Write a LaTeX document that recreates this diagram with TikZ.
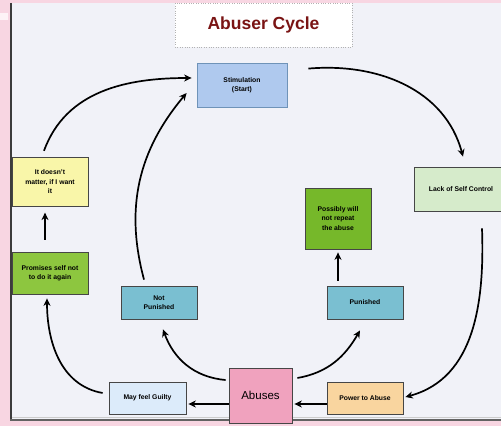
\documentclass[tikz,border=0pt]{standalone}
\usepackage{fontspec}
\setmainfont{Liberation Sans}
\usetikzlibrary{positioning,arrows.meta}
\definecolor{cPink}{RGB}{248,214,226}
\definecolor{cPanel}{RGB}{241,242,248}
\definecolor{cFrame}{RGB}{60,60,60}
\definecolor{cTitle}{RGB}{122,20,20}
\definecolor{cEdge}{RGB}{70,70,70}
\definecolor{cStim}{RGB}{175,201,238}
\definecolor{cStimE}{RGB}{111,147,184}
\definecolor{cLack}{RGB}{214,235,203}
\definecolor{cMaybe}{RGB}{118,184,42}
\definecolor{cPun}{RGB}{122,191,209}
\definecolor{cMatter}{RGB}{249,246,169}
\definecolor{cPromise}{RGB}{141,198,63}
\definecolor{cGuilt}{RGB}{220,235,250}
\definecolor{cAbuse}{RGB}{240,162,190}
\definecolor{cPower}{RGB}{249,213,159}
\tikzset{
  phase/.style={
    rectangle, draw=cEdge, line width=0.8pt,
    align=center, text=black, inner sep=1.5pt,
    font=\fontsize{6.8}{9.4}\selectfont\bfseries,
  },
  arr/.style={-{Stealth[length=7.5pt,width=7pt]}, line width=1.7pt, draw=black},
}

\begin{document}
\begin{tikzpicture}[x=1pt,y=1pt]
\useasboundingbox (0,0) rectangle (501,426);

% ===== slide background =====
\fill[cPink] (0,0) rectangle (501,426);
\fill[cPanel] (10,6) rectangle (505,423);
\fill[white!70!cPink] (0,406) rectangle (8,413);
\draw[cFrame, line width=2.5pt] (11,423) -- (11,5);
\draw[cFrame!80, line width=2.5pt] (10,6) -- (505,6);
\draw[gray!40, line width=1.5pt] (12,8.5) -- (505,8.5);

% ===== title =====
\node[draw=gray!60, dotted, fill=white, minimum width=177pt, minimum height=44pt,
  font=\fontsize{17.5}{20}\selectfont\bfseries, text=cTitle] (title) at (263.5,401) {Abuser Cycle};

% ===== cycle boxes =====
\node[phase, fill=cStim, draw=cStimE, minimum width=90pt, minimum height=44pt] (stim) at (242,341)
  {Stimulation\\(Start)};
\node[phase, fill=cLack, minimum width=94pt, minimum height=44pt] (lack) at (461,237)
  {Lack of Self Control};
\node[phase, fill=cPower, minimum width=76pt, minimum height=32pt] (power) at (365,28)
  {Power to Abuse};
\node[phase, fill=cAbuse, minimum width=63pt, minimum height=55pt,
  font=\fontsize{11.5}{13}\selectfont] (abuses) at (260.5,30.5) {Abuses};
\node[phase, fill=cGuilt, minimum width=77pt, minimum height=32pt] (guilty) at (147.5,28)
  {May feel Guilty};
\node[phase, fill=cPromise, minimum width=76pt, minimum height=42pt] (promise) at (50,153)
  {Promises self not\\to do it again};
\node[phase, fill=cMatter, minimum width=76pt, minimum height=49pt, above=45pt of promise] (matter)
  {It doesn't\\matter, if I want\\it};

% ===== branches =====
\node[phase, fill=cPun, minimum width=76pt, minimum height=33pt] (notpun) at (159,123.5)
  {Not\\Punished};
\node[phase, fill=cPun, minimum width=76pt, minimum height=33pt] (pun) at (365,123.5)
  {Punished};
\node[phase, fill=cMaybe, minimum width=66pt, minimum height=61pt] (maybe) at (338,207.5)
  {Possibly will\\not repeat\\the abuse};

% ===== arrows =====
\draw[arr] ([xshift=21pt,yshift=-6pt]stim.north east) to[out=5,in=105] ([xshift=2pt,yshift=10pt]lack.north);
\draw[arr] ([xshift=21pt,yshift=-17pt]lack.south) to[out=-88,in=15] ([xshift=2pt,yshift=1pt]power.east);
\draw[arr, shorten >=2pt] ([yshift=-6pt]power.west) -- ([yshift=-6pt]power.west -| abuses.east);
\draw[arr, shorten >=2pt] ([yshift=-8.5pt]abuses.west) -- ([yshift=-8.5pt]abuses.west -| guilty.east);
\draw[arr] ([xshift=-6pt,yshift=5pt]guilty.west) to[out=170,in=-90] ([xshift=-3pt,yshift=-4pt]promise.south);
\draw[arr] ([xshift=-5pt,yshift=12pt]promise.north) -- ([xshift=-5pt,yshift=-6pt]matter.south);
\draw[arr] ([xshift=-6pt,yshift=6pt]matter.north) to[out=70,in=180] ([xshift=-5pt,yshift=7pt]stim.west);

% abuses split into the two outcomes
\draw[arr] ([xshift=-3pt,yshift=15.5pt]abuses.west) to[out=175,in=-70] ([xshift=4pt,yshift=-10pt]notpun.south);
\draw[arr] ([xshift=5pt,yshift=17.5pt]abuses.east) to[out=10,in=-120] ([xshift=-5pt,yshift=-11pt]pun.south);
\draw[arr] ([xshift=-15pt,yshift=6pt]notpun.north) to[out=105,in=230] ([xshift=-10pt,yshift=-8pt]stim.west);
\draw[arr] ([xshift=-27pt,yshift=5pt]pun.north) -- ([yshift=-3pt]maybe.south);

\end{tikzpicture}
\end{document}
